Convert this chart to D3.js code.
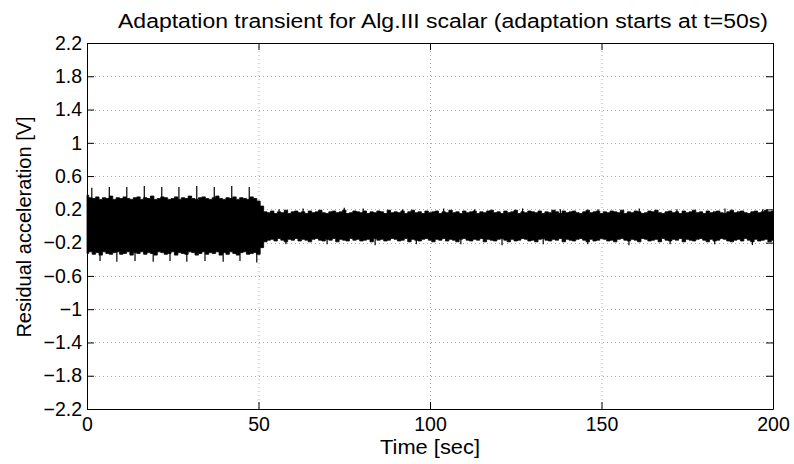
<!DOCTYPE html>
<html><head><meta charset="utf-8">
<script src="https://cdn.jsdelivr.net/npm/d3@7"></script>
<style>
body{margin:0;background:#fff;}
svg{display:block;font-family:"Liberation Sans",Arial,Helvetica,sans-serif;}
</style></head>
<body><svg id="c" width="794" height="464"></svg>
<script>
// ---- data ----
const titleText = "Adaptation transient for Alg.III scalar (adaptation starts at t=50s)";
const xLabelText = "Time [sec]";
const yLabelText = "Residual acceleration [V]";
const xTicks = [0, 50, 100, 150, 200];
const yTicks = [-2.2, -1.8, -1.4, -1, -0.6, -0.2, 0.2, 0.6, 1, 1.4, 1.8, 2.2];
const yTickLabels = ["\u22122.2","\u22121.8","\u22121.4","\u22121","\u22120.6","\u22120.2","0.2","0.6","1","1.4","1.8","2.2"];
// envelope of the residual signal, one sample per second, t = 0..200
const upperEnv = [
0.37,0.34,0.33,0.35,0.32,0.34,0.33,0.36,0.32,0.34,
0.33,0.35,0.33,0.32,0.34,0.35,0.32,0.34,0.33,0.36,
0.32,0.33,0.35,0.34,0.32,0.33,0.35,0.32,0.34,0.33,
0.36,0.33,0.32,0.34,0.35,0.33,0.32,0.34,0.36,0.33,
0.32,0.34,0.33,0.35,0.32,0.34,0.33,0.32,0.35,0.33,
0.30,0.24,0.17,0.16,0.18,0.15,0.17,0.16,0.19,0.15,
0.17,0.18,0.16,0.17,0.15,0.18,0.16,0.17,0.19,0.16,
0.15,0.17,0.18,0.16,0.17,0.19,0.15,0.16,0.18,0.17,
0.16,0.18,0.15,0.17,0.16,0.18,0.17,0.15,0.19,0.16,
0.17,0.16,0.18,0.15,0.17,0.19,0.16,0.17,0.15,0.18,
0.16,0.17,0.18,0.15,0.17,0.16,0.19,0.16,0.17,0.15,
0.18,0.16,0.17,0.18,0.15,0.17,0.16,0.18,0.19,0.16,
0.17,0.15,0.18,0.16,0.17,0.19,0.15,0.17,0.16,0.18,
0.17,0.16,0.18,0.15,0.17,0.16,0.19,0.17,0.15,0.18,
0.16,0.17,0.18,0.16,0.15,0.17,0.19,0.16,0.17,0.18,
0.15,0.17,0.16,0.18,0.17,0.16,0.19,0.15,0.17,0.16,
0.18,0.17,0.15,0.16,0.18,0.17,0.19,0.16,0.15,0.17,
0.18,0.16,0.17,0.15,0.18,0.16,0.17,0.19,0.16,0.17,
0.15,0.18,0.16,0.17,0.18,0.16,0.15,0.17,0.19,0.16,
0.17,0.18,0.16,0.15,0.17,0.18,0.16,0.17,0.19,0.17,
0.18];
const lowerEnv = [
-0.33,-0.31,-0.34,-0.32,-0.35,-0.31,-0.33,-0.34,-0.32,-0.31,
-0.34,-0.33,-0.31,-0.35,-0.32,-0.33,-0.31,-0.34,-0.32,-0.33,
-0.35,-0.31,-0.32,-0.34,-0.33,-0.31,-0.35,-0.32,-0.33,-0.34,
-0.31,-0.32,-0.35,-0.33,-0.31,-0.34,-0.32,-0.33,-0.31,-0.35,
-0.32,-0.34,-0.31,-0.33,-0.35,-0.32,-0.31,-0.34,-0.33,-0.32,
-0.34,-0.26,-0.19,-0.17,-0.16,-0.18,-0.15,-0.17,-0.19,-0.16,
-0.17,-0.15,-0.18,-0.16,-0.17,-0.19,-0.16,-0.15,-0.17,-0.18,
-0.16,-0.17,-0.15,-0.19,-0.16,-0.17,-0.18,-0.15,-0.17,-0.16,
-0.18,-0.17,-0.16,-0.19,-0.15,-0.17,-0.16,-0.18,-0.17,-0.15,
-0.16,-0.18,-0.17,-0.15,-0.19,-0.16,-0.17,-0.18,-0.16,-0.15,
-0.17,-0.19,-0.16,-0.17,-0.15,-0.18,-0.16,-0.17,-0.19,-0.16,
-0.15,-0.17,-0.18,-0.16,-0.17,-0.15,-0.19,-0.16,-0.17,-0.18,
-0.16,-0.15,-0.17,-0.19,-0.16,-0.18,-0.17,-0.15,-0.16,-0.18,
-0.17,-0.19,-0.16,-0.15,-0.17,-0.18,-0.16,-0.17,-0.15,-0.19,
-0.16,-0.17,-0.18,-0.16,-0.15,-0.17,-0.19,-0.16,-0.18,-0.17,
-0.15,-0.16,-0.18,-0.17,-0.19,-0.16,-0.15,-0.17,-0.18,-0.16,
-0.17,-0.19,-0.15,-0.16,-0.18,-0.17,-0.16,-0.19,-0.15,-0.17,
-0.18,-0.16,-0.17,-0.15,-0.19,-0.16,-0.17,-0.18,-0.16,-0.15,
-0.17,-0.19,-0.16,-0.18,-0.17,-0.15,-0.16,-0.18,-0.19,-0.17,
-0.16,-0.18,-0.15,-0.17,-0.19,-0.16,-0.18,-0.17,-0.16,-0.19,
-0.17];
// isolated peaks sticking out of the envelope: [time, value]
const upPeakT = [1.4,6.5,11.6,16.7,21.8,26.8,32,37.1,42.2,47.3, 56,63,75,80.5,92,104,113,127,138,149,161,172,186,197];
const upPeakV = [0.46,0.47,0.47,0.48,0.47,0.47,0.48,0.47,0.48,0.47, 0.20,0.21,0.22,0.21,0.20,0.21,0.20,0.21,0.20,0.20,0.21,0.20,0.21,0.20];
const loPeakT = [3.8,8.7,14,19.3,24.2,29.1,34.4,39.7,44.6,49.5, 58,70,84,96,109,121,133,146,158,170,183,194];
const loPeakV = [-0.42,-0.43,-0.42,-0.43,-0.42,-0.43,-0.42,-0.43,-0.42,-0.44, -0.22,-0.22,-0.23,-0.22,-0.22,-0.23,-0.22,-0.22,-0.23,-0.22,-0.22,-0.23];

// ---- layout ----
const L = 87, R = 773, T = 43, B = 409;
const svg = d3.select("#c");
const x = d3.scaleLinear().domain([0, 200]).range([L, R]);
const y = d3.scaleLinear().domain([-2.2, 2.2]).range([B, T]);
const tick = 7;
const FS = 20, TFS = 19.5;

// grid
const g = svg.append("g");
g.selectAll(".gx").data(xTicks.filter(v => v > 0 && v < 200)).enter().append("line")
  .attr("x1", d => x(d)+0.5).attr("x2", d => x(d)+0.5).attr("y1", T).attr("y2", B)
  .attr("stroke", "#aaa").attr("stroke-width", 1).attr("stroke-dasharray", "1,3");
g.selectAll(".gy").data(yTicks.filter(v => v > -2.2 && v < 2.2)).enter().append("line")
  .attr("y1", d => Math.round(y(d))+0.5).attr("y2", d => Math.round(y(d))+0.5).attr("x1", L).attr("x2", R)
  .attr("stroke", "#aaa").attr("stroke-width", 1).attr("stroke-dasharray", "1,3");

// signal
const idx = d3.range(upperEnv.length);
const area = d3.area().curve(d3.curveStep).x(i => x(i)).y0(i => y(lowerEnv[i])).y1(i => y(upperEnv[i]));
svg.append("path").attr("d", area(idx)).attr("fill", "#000").attr("stroke", "#000").attr("stroke-width", 0.8);
svg.selectAll(".up").data(upPeakT).enter().append("line")
  .attr("x1", d => x(d)).attr("x2", d => x(d)).attr("y1", y(0)).attr("y2", (d, i) => y(upPeakV[i]))
  .attr("stroke", "#000").attr("stroke-width", 1.2);
svg.selectAll(".lo").data(loPeakT).enter().append("line")
  .attr("x1", d => x(d)).attr("x2", d => x(d)).attr("y1", y(0)).attr("y2", (d, i) => y(loPeakV[i]))
  .attr("stroke", "#000").attr("stroke-width", 1.2);

// axes (box with inward ticks)
const axB = d3.axisBottom(x).tickValues(xTicks).tickSize(-tick).tickSizeOuter(0).tickFormat(d3.format("d")).tickPadding(8);
const axT = d3.axisTop(x).tickValues(xTicks).tickSize(-tick).tickSizeOuter(0).tickFormat("");
const axL = d3.axisLeft(y).tickValues(yTicks).tickSize(-tick).tickSizeOuter(0).tickFormat((d, i) => yTickLabels[i]).tickPadding(5);
const axR = d3.axisRight(y).tickValues(yTicks).tickSize(-tick).tickSizeOuter(0).tickFormat("");
function style(sel){
  sel.select(".domain").attr("stroke", "#000").attr("stroke-width", 1);
  sel.selectAll(".tick line").attr("stroke", "#000");
  sel.selectAll("text").attr("fill", "#000").attr("font-size", TFS).attr("font-family", "Liberation Sans, Arial, sans-serif");
}
svg.append("g").attr("transform", `translate(0,${B})`).call(axB).call(style);
svg.append("g").attr("transform", `translate(0,${T})`).call(axT).call(style);
svg.append("g").attr("transform", `translate(${L},0)`).call(axL).call(style);
svg.append("g").attr("transform", `translate(${R},0)`).call(axR).call(style);

// texts
svg.append("text").attr("x", 443).attr("y", 28).attr("text-anchor", "middle").attr("font-size", FS)
  .attr("textLength", 650).attr("lengthAdjust", "spacingAndGlyphs").text(titleText);
svg.append("text").attr("x", 430).attr("y", 454).attr("text-anchor", "middle").attr("font-size", FS)
  .attr("textLength", 100).attr("lengthAdjust", "spacingAndGlyphs").text(xLabelText);
svg.append("text").attr("transform", `translate(31,227) rotate(-90)`).attr("text-anchor", "middle").attr("font-size", FS).text(yLabelText);
</script></body></html>
